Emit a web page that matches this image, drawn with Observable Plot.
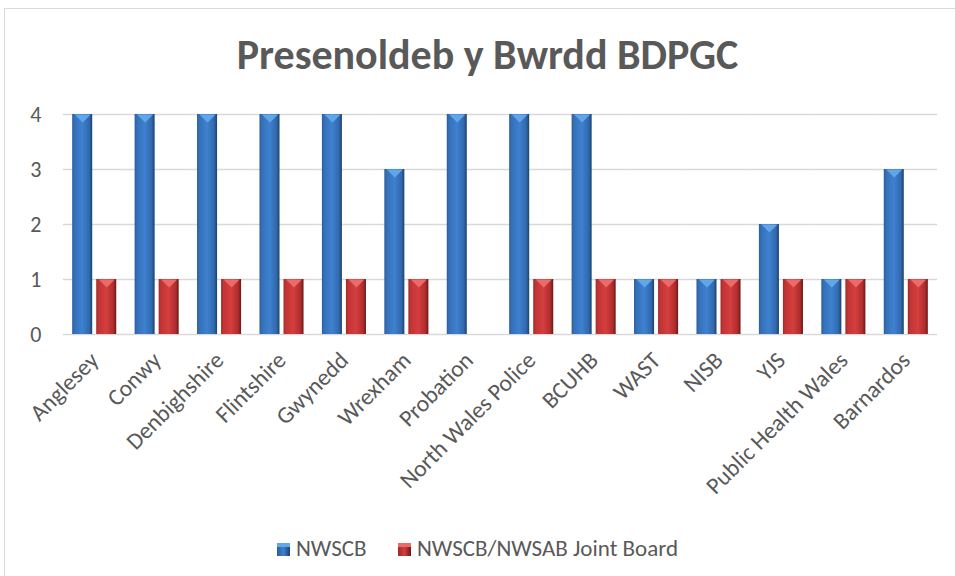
<!DOCTYPE html>
<html><head><meta charset="utf-8">
<script src="https://cdn.jsdelivr.net/npm/d3@7"></script>
<script src="https://cdn.jsdelivr.net/npm/@observablehq/plot@0.6"></script>
<style>
body{margin:0;background:#fff;font-family:Carlito,Lato,"Open Sans",sans-serif;color:#595959;}
#wrap{position:relative;width:955px;height:576px;overflow:hidden;background:#fff;}
#bt{position:absolute;left:4px;top:8px;width:951px;height:1px;background:#d9d9d9;}
#bl{position:absolute;left:4px;top:8px;width:1px;height:568px;background:#d9d9d9;}
#title{height:100px;box-sizing:border-box;padding-top:31px;line-height:48px;font-size:42px;font-weight:bold;text-align:center;padding-left:20px;}
#legend{position:relative;height:51px;font-size:23px;}
.li{position:absolute;top:11px;line-height:24px;white-space:nowrap;}
.sw{display:inline-block;width:13px;height:13px;vertical-align:0px;margin-right:6px;}
</style></head>
<body>
<div id="wrap">
<div id="bt"></div><div id="bl"></div>
<div id="title">Presenoldeb y Bwrdd BDPGC</div>
<div id="chart"></div>
<div id="legend"></div>
</div>
<script>
const categories = ["Anglesey","Conwy","Denbighshire","Flintshire","Gwynedd","Wrexham","Probation","North Wales Police","BCUHB","WAST","NISB","YJS","Public Health Wales","Barnardos"];
const series = ["NWSCB","NWSCB/NWSAB Joint Board"];
const nwscb = [4,4,4,4,4,3,4,4,4,1,1,2,1,3];
const joint = [1,1,1,1,1,1,0,1,1,1,1,1,1,1];
const yTicks = [0,1,2,3,4];

const rows = [];
categories.forEach((c,i)=>{
  rows.push({category:c, series:series[0], value:nwscb[i]});
  rows.push({category:c, series:series[1], value:joint[i]});
});
const blueRows = rows.filter(d=>d.series===series[0]);
const redRows = rows.filter(d=>d.series===series[1]);

const tri = {draw(ctx){ ctx.moveTo(-8,0); ctx.lineTo(8,0); ctx.lineTo(0,8); ctx.closePath(); }};

function defs(){
  const g = d3.create("svg:defs");
  const mk = (id, stops) => {
    const lg = g.append("linearGradient").attr("id",id).attr("x1",0).attr("x2",1).attr("y1",0).attr("y2",0);
    stops.forEach(([o,c])=>lg.append("stop").attr("offset",o).attr("stop-color",c));
  };
  mk("gBlue",[[0,"#2a5d9c"],[0.12,"#3570b9"],[0.5,"#3e81cf"],[0.85,"#3169ad"],[1,"#1c416f"]]);
  mk("gRed",[[0,"#a02a2a"],[0.12,"#c33434"],[0.5,"#d43e3e"],[0.85,"#b02d2d"],[1,"#6a1818"]]);
  return g.node();
}

const plot = Plot.plot({
  width: 955,
  height: 425,
  marginTop: 14,
  marginBottom: 191,
  marginLeft: 63,
  marginRight: 18,
  style: {fontFamily: "Carlito, Lato, 'Open Sans', sans-serif", color: "#595959", background: "transparent"},
  fx: {domain: categories, padding: 0, round: false, label: null},
  x: {domain: series, paddingInner: 1/6, paddingOuter: 0.382, round: false, axis: null},
  y: {domain: [0,4], label: null},
  marks: [
    defs,
    Plot.ruleY(yTicks, {stroke: "#d9d9d9", strokeWidth: 1.3}),
    Plot.barY(blueRows, {fx: "category", x: "series", y: "value", fill: "url(#gBlue)"}),
    Plot.barY(redRows, {fx: "category", x: "series", y: "value", fill: "url(#gRed)"}),
    Plot.dot(blueRows.filter(d=>d.value>0), {fx: "category", x: "series", y: "value", symbol: tri, fill: "#62a6ea"}),
    Plot.dot(redRows.filter(d=>d.value>0), {fx: "category", x: "series", y: "value", symbol: tri, fill: "#ec6a6a"}),
    Plot.axisY({ticks: yTicks, tickFormat: d3.format("d"), tickSize: 0, tickPadding: 22, fontSize: 22, label: null}),
    Plot.axisFx({anchor: "bottom", tickRotate: -45, tickSize: 0, tickPadding: 22, fontSize: 23.5, label: null})
  ]
});
document.getElementById("chart").appendChild(plot);

const legend = document.getElementById("legend");
const legendItems = [
  {name: series[0], left: 277, bg: "linear-gradient(to right,#2a5d9c,#3e81cf,#1c416f)", tip: "#62a6ea"},
  {name: series[1], left: 398, bg: "linear-gradient(to right,#a02a2a,#d43e3e,#6a1818)", tip: "#ec6a6a"}
];
legendItems.forEach(it=>{
  const s = document.createElement("span");
  s.className = "li";
  s.style.left = it.left + "px";
  s.innerHTML = `<span class="sw" style="background:linear-gradient(to bottom, ${it.tip} 0, ${it.tip} 30%, transparent 30%), ${it.bg};"></span>`;
  s.appendChild(document.createTextNode(it.name));
  legend.appendChild(s);
});
</script>
</body></html>
